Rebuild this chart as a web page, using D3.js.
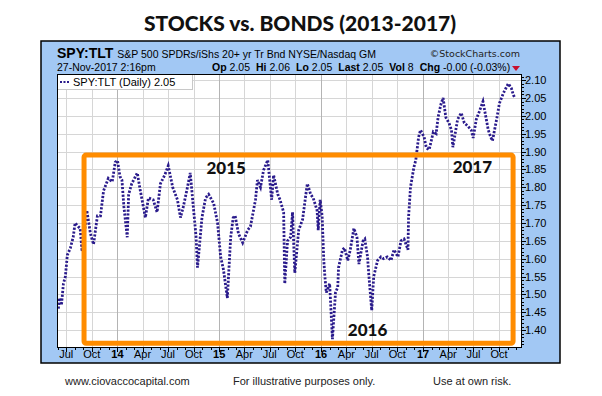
<!DOCTYPE html>
<html>
<head>
<meta charset="utf-8">
<script src="https://cdn.jsdelivr.net/npm/d3@7"></script>
<style>
  body { margin: 0; background: #fff; }
  svg { display: block; }
</style>
</head>
<body>
<div id="chart"></div>
<script>
const width = 602;
const height = 396;

// SPY:TLT ratio (roughly every week or two)
const dates = [
  "2013-06-03","2013-06-06","2013-06-14","2013-06-21","2013-06-28","2013-07-05","2013-07-16","2013-07-26",
  "2013-08-02","2013-08-13","2013-08-20","2013-08-27","2013-09-03","2013-09-13","2013-09-26","2013-10-07",
  "2013-10-21","2013-11-01","2013-11-12","2013-11-29","2013-12-13","2013-12-24","2014-01-01","2014-01-10",
  "2014-01-17","2014-01-24","2014-02-05","2014-02-10","2014-02-21","2014-03-13","2014-03-24","2014-04-11",
  "2014-04-22","2014-05-09","2014-05-23","2014-06-04","2014-06-20","2014-07-02","2014-07-18","2014-08-04",
  "2014-08-15","2014-08-25","2014-09-09","2014-09-19","2014-09-30","2014-10-10","2014-10-15","2014-10-31",
  "2014-11-13","2014-11-24","2014-12-12","2014-12-26","2015-01-06","2015-01-16","2015-01-30","2015-02-11",
  "2015-02-20","2015-02-27","2015-03-11","2015-03-26","2015-04-13","2015-04-23","2015-05-11","2015-05-18",
  "2015-05-29","2015-06-09","2015-06-24","2015-06-26","2015-07-08","2015-07-15","2015-07-30","2015-08-07",
  "2015-08-20","2015-08-24","2015-09-03","2015-09-14","2015-09-21","2015-09-25","2015-09-29","2015-10-13",
  "2015-10-27","2015-11-06","2015-11-13","2015-11-25","2015-12-04","2015-12-18","2015-12-22","2015-12-29",
  "2016-01-05","2016-01-11","2016-01-15","2016-01-20","2016-02-01","2016-02-11","2016-02-22","2016-03-01",
  "2016-03-04","2016-03-18","2016-03-25","2016-04-06","2016-04-15","2016-04-28","2016-05-09","2016-05-16",
  "2016-05-31","2016-06-06","2016-06-16","2016-06-20","2016-07-01","2016-07-08","2016-07-22","2016-08-03",
  "2016-08-12","2016-08-26","2016-09-08","2016-09-19","2016-10-03","2016-10-14","2016-10-25","2016-11-08",
  "2016-11-10","2016-11-17","2016-11-29","2016-12-06","2016-12-16","2016-12-23","2017-01-05","2017-01-13",
  "2017-01-23","2017-02-07","2017-02-17","2017-02-24","2017-03-07","2017-03-14","2017-03-24","2017-04-04",
  "2017-04-13","2017-04-18","2017-05-05","2017-05-18","2017-05-29","2017-06-12","2017-06-23","2017-06-30",
  "2017-07-11","2017-07-21","2017-08-04","2017-08-16","2017-08-23","2017-09-01","2017-09-07","2017-09-22",
  "2017-10-02","2017-10-16","2017-10-27","2017-11-03","2017-11-14","2017-11-21","2017-11-27"
];
const ratio = [
  1.46,1.49,1.47,1.53,1.55,1.61,1.63,1.66,
  1.70,1.69,1.685,1.62,1.66,1.735,1.67,1.64,
  1.72,1.72,1.79,1.825,1.815,1.87,1.875,1.83,
  1.82,1.745,1.66,1.78,1.81,1.84,1.79,1.715,
  1.77,1.765,1.73,1.81,1.835,1.86,1.80,1.765,
  1.715,1.745,1.80,1.84,1.745,1.66,1.575,1.715,
  1.77,1.78,1.755,1.70,1.605,1.57,1.49,1.66,
  1.715,1.72,1.67,1.645,1.68,1.69,1.765,1.82,
  1.80,1.848,1.876,1.86,1.765,1.834,1.78,1.765,
  1.73,1.53,1.65,1.66,1.73,1.645,1.56,1.68,
  1.71,1.77,1.81,1.78,1.77,1.735,1.68,1.765,
  1.72,1.595,1.55,1.505,1.53,1.375,1.505,1.52,
  1.575,1.625,1.63,1.595,1.625,1.685,1.66,1.585,
  1.65,1.655,1.605,1.56,1.455,1.55,1.595,1.605,
  1.60,1.605,1.595,1.625,1.605,1.65,1.655,1.625,
  1.715,1.80,1.855,1.876,1.94,1.96,1.94,1.91,
  1.905,1.955,1.95,1.996,2.035,2.05,1.995,1.98,
  1.96,1.912,1.99,2.008,1.98,1.97,1.96,1.938,
  1.99,2.01,2.04,1.99,1.96,1.94,1.93,1.99,
  2.035,2.063,2.08,2.09,2.077,2.058,2.05
];

const yTicks = [1.40,1.45,1.50,1.55,1.60,1.65,1.70,1.75,1.80,1.85,1.90,1.95,2.00,2.05,2.10];
const monthNames = ["Jan","Feb","Mar","Apr","May","Jun","Jul","Aug","Sep","Oct","Nov","Dec"];

// highlighted range box and year notes
const boxStart = "2013-09-03", boxEnd = "2017-11-20";
const boxTop = 1.89, boxBottom = 1.363;
const yearNotes = [
  { label: "2015", date: "2015-01-26", value: 1.837 },
  { label: "2016", date: "2016-06-16", value: 1.384 },
  { label: "2017", date: "2017-06-27", value: 1.84 }
];

const parse = d3.timeParse("%Y-%m-%d");
const series = dates.map((d, i) => ({ date: parse(d), value: ratio[i] }));

const plot = { left: 57, top: 74, right: 522, bottom: 348 };
const navy = "#2a1b8c";
const font = "'Liberation Sans', Arial, sans-serif";

const x = d3.scaleTime()
  .domain([new Date(2013, 4, 29), new Date(2017, 11, 22)])
  .range([plot.left, plot.right]);
const y = d3.scaleLinear()
  .domain([1.35, 2.117])
  .range([plot.bottom, plot.top]);

const svg = d3.select("#chart").append("svg")
  .attr("width", width)
  .attr("height", height);

// Title
svg.append("text")
  .attr("x", 300).attr("y", 31)
  .attr("text-anchor", "middle")
  .attr("font-family", "Lato, 'DejaVu Sans', sans-serif")
  .attr("font-weight", 900)
  .attr("font-size", 21)
  .attr("fill", "#111")
  .text("STOCKS vs. BONDS (2013-2017)");

// Blue StockCharts panel
svg.append("rect")
  .attr("x", 41).attr("y", 41)
  .attr("width", 519).attr("height", 322)
  .attr("fill", "#a2c8f4")
  .attr("stroke", "#000").attr("stroke-width", 1.5);

// Header lines
const head1 = svg.append("text").attr("x", 57).attr("y", 58).attr("font-family", font).attr("fill", "#000");
head1.append("tspan").attr("font-weight", "bold").attr("font-size", 14).text("SPY:TLT");
head1.append("tspan").attr("font-size", 10.5).attr("dx", 4).text("S&P 500 SPDRs/iShs 20+ yr Tr Bnd NYSE/Nasdaq GM");

svg.append("text")
  .attr("x", 520).attr("y", 57)
  .attr("text-anchor", "end")
  .attr("font-family", "'DejaVu Sans', sans-serif")
  .attr("font-size", 9.5)
  .attr("fill", "#222")
  .text("\u00A9StockCharts.com");

svg.append("text")
  .attr("x", 57).attr("y", 71)
  .attr("font-family", font).attr("font-size", 10.5)
  .text("27-Nov-2017 2:16pm");

const quote = [["Op", "2.05"], ["Hi", "2.06"], ["Lo", "2.05"], ["Last", "2.05"], ["Vol", "8"], ["Chg", "-0.00 (-0.03%)"]];
const head2 = svg.append("text").attr("x", 212).attr("y", 71).attr("font-family", font).attr("font-size", 10.5);
quote.forEach(([k, v], i) => {
  head2.append("tspan").attr("font-weight", "bold").attr("dx", i ? 6 : 0).text(k);
  head2.append("tspan").attr("dx", 3).text(v);
});
svg.append("path")
  .attr("d", "M512,66 L520,66 L516,71 Z")
  .attr("fill", "#c8102e");

// Plot area
svg.append("rect")
  .attr("x", plot.left).attr("y", plot.top)
  .attr("width", plot.right - plot.left).attr("height", plot.bottom - plot.top)
  .attr("fill", "#fff");

const quarters = d3.timeMonth.every(3).range(x.domain()[0], x.domain()[1]);
const months = d3.timeMonth.range(x.domain()[0], x.domain()[1]);

// Gridlines
svg.append("g").selectAll("line")
  .data(yTicks)
  .join("line")
  .attr("x1", plot.left).attr("x2", plot.right)
  .attr("y1", d => Math.round(y(d)) + 0.5).attr("y2", d => Math.round(y(d)) + 0.5)
  .attr("stroke", "#d6d6d6");

svg.append("g").selectAll("line")
  .data(quarters)
  .join("line")
  .attr("x1", d => Math.round(x(d)) + 0.5).attr("x2", d => Math.round(x(d)) + 0.5)
  .attr("y1", plot.top).attr("y2", plot.bottom)
  .attr("stroke", d => d.getMonth() === 0 ? "#b4b4b4" : "#d6d6d6");

// Legend box
svg.append("rect")
  .attr("x", plot.left + 0.5).attr("y", plot.top + 0.5)
  .attr("width", 135).attr("height", 15)
  .attr("fill", "#fff").attr("stroke", "#c8c8c8");
svg.append("line")
  .attr("x1", 60).attr("x2", 70).attr("y1", 82).attr("y2", 82)
  .attr("stroke", navy).attr("stroke-width", 2).attr("stroke-dasharray", "2,1.5");
svg.append("text")
  .attr("x", 73).attr("y", 86)
  .attr("font-family", font).attr("font-size", 11)
  .text("SPY:TLT (Daily) 2.05");

// Ratio line
const line = d3.line()
  .x(d => x(d.date))
  .y(d => y(d.value));

svg.append("path")
  .datum(series)
  .attr("d", line)
  .attr("fill", "none")
  .attr("stroke", navy)
  .attr("stroke-width", 2.8)
  .attr("stroke-dasharray", "2.2,1.6");

// Orange range box
svg.append("rect")
  .attr("x", x(parse(boxStart))).attr("y", y(boxTop))
  .attr("width", x(parse(boxEnd)) - x(parse(boxStart)))
  .attr("height", y(boxBottom) - y(boxTop))
  .attr("rx", 2)
  .attr("fill", "none")
  .attr("stroke", "#ff8c00")
  .attr("stroke-width", 5);

svg.append("g").selectAll("text")
  .data(yearNotes)
  .join("text")
  .attr("x", d => x(parse(d.date)))
  .attr("y", d => y(d.value))
  .attr("text-anchor", "middle")
  .attr("font-family", "Lato, 'DejaVu Sans', sans-serif")
  .attr("font-weight", 900)
  .attr("font-size", 17)
  .attr("fill", "#111")
  .text(d => d.label);

// Plot border
svg.append("rect")
  .attr("x", plot.left + 0.5).attr("y", plot.top + 0.5)
  .attr("width", plot.right - plot.left - 1).attr("height", plot.bottom - plot.top - 1)
  .attr("fill", "none").attr("stroke", "#000");

// Right axis
const yAxis = svg.append("g");
yAxis.selectAll("line.minor")
  .data(d3.range(136, 212).map(v => v / 100))
  .join("line")
  .attr("class", "minor")
  .attr("x1", plot.right).attr("x2", plot.right + 2)
  .attr("y1", d => Math.round(y(d)) + 0.5).attr("y2", d => Math.round(y(d)) + 0.5)
  .attr("stroke", "#000");
yAxis.selectAll("line.major")
  .data(yTicks)
  .join("line")
  .attr("class", "major")
  .attr("x1", plot.right).attr("x2", plot.right + 4)
  .attr("y1", d => Math.round(y(d)) + 0.5).attr("y2", d => Math.round(y(d)) + 0.5)
  .attr("stroke", "#000");
yAxis.selectAll("text")
  .data(yTicks)
  .join("text")
  .attr("x", plot.right + 3)
  .attr("y", d => y(d) + 4)
  .attr("font-family", font).attr("font-size", 11)
  .text(d => d3.format(".2f")(d));

// Bottom axis
const xAxis = svg.append("g");
xAxis.selectAll("line")
  .data(months)
  .join("line")
  .attr("x1", d => Math.round(x(d)) + 0.5).attr("x2", d => Math.round(x(d)) + 0.5)
  .attr("y1", plot.bottom).attr("y2", d => plot.bottom + (d.getMonth() % 3 === 0 ? 4 : 2))
  .attr("stroke", "#000");
xAxis.selectAll("text")
  .data(quarters)
  .join("text")
  .attr("x", d => x(d))
  .attr("y", 358)
  .attr("text-anchor", "middle")
  .attr("font-family", font).attr("font-size", 11)
  .attr("font-weight", d => d.getMonth() === 0 ? "bold" : "normal")
  .text(d => d.getMonth() === 0 ? d3.timeFormat("%y")(d) : monthNames[d.getMonth()]);

// Footer
const footer = [["www.ciovaccocapital.com", 65], ["For illustrative purposes only.", 233], ["Use at own risk.", 433]];
svg.append("g").selectAll("text")
  .data(footer)
  .join("text")
  .attr("x", d => d[1]).attr("y", 385)
  .attr("font-family", font).attr("font-size", 11)
  .attr("fill", "#222")
  .text(d => d[0]);
</script>
</body>
</html>
